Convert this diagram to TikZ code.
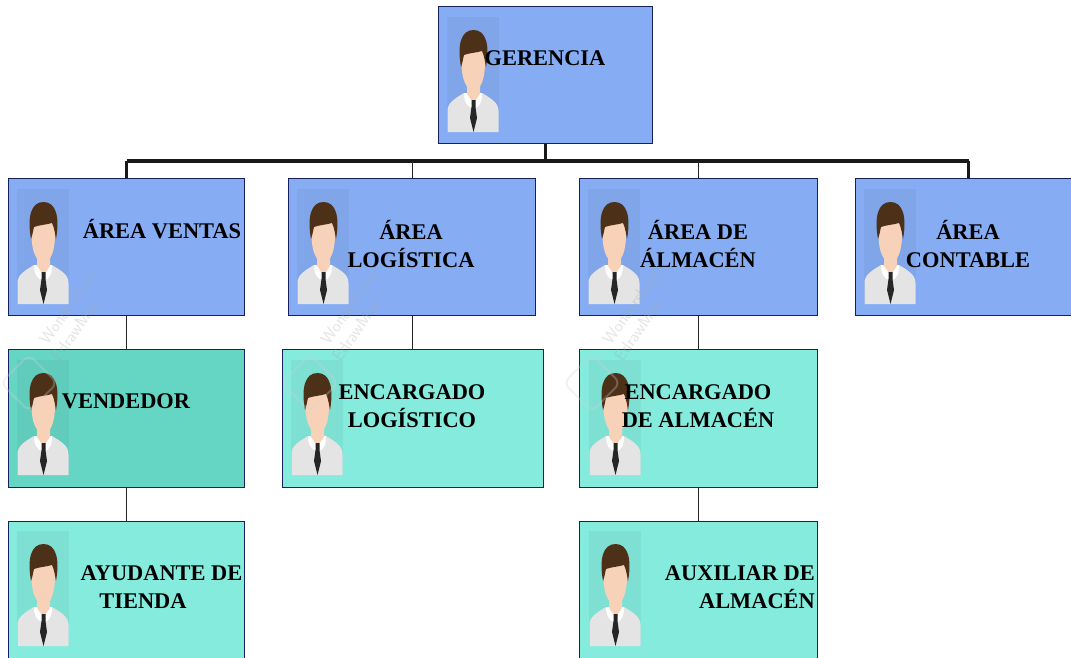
\documentclass[tikz,border=0pt]{standalone}
\usepackage{fontspec}
\setmainfont{Liberation Serif}
\definecolor{areablue}{HTML}{86ADF3}
\definecolor{cargoteal}{HTML}{84EBDD}
\definecolor{vendteal}{HTML}{66D6C4}
\definecolor{edgenavy}{HTML}{16205C}
\definecolor{skintone}{HTML}{F8D2B8}
\definecolor{hairbrown}{HTML}{4C3018}
\definecolor{shirtgray}{HTML}{E4E4E4}
\tikzset{
	orgbox/.style={draw=edgenavy, line width=1.3pt, anchor=north west, inner sep=0pt},
	arealabel/.style={font=\fontsize{22.4}{28}\selectfont\bfseries, align=center, inner sep=0pt},
	thinlink/.style={line width=1.3pt, draw=black!85},
	thicklink/.style={line width=3.6pt, draw=black!90},
	marklabel/.style={font=\fontsize{17}{17}\selectfont\sffamily, text=gray!70, opacity=.3, rotate=55, inner sep=0pt},
	logomark/.style={draw=gray!35, line width=2pt, opacity=.3, rounded corners=7pt, rotate=45, minimum size=40pt, inner sep=0pt},
	person/.pic={
		\fill[black, opacity=.045] (0,0) rectangle (52,115);
		\fill[shirtgray] (0.5,115) -- (0.5,94) .. controls (0.5,86) and (7,82) .. (17,76) -- (35,76)
			.. controls (45,82) and (51.5,86) .. (51.5,94) -- (51.5,115) -- cycle;
		\fill[white] (17,76) .. controls (17,84) and (20,91) .. (26.5,91)
			.. controls (33,91) and (35,84) .. (35,76) -- cycle;
		\fill[skintone] (20,58) -- (33,58) -- (33,77) -- (26.5,86) -- (20,77) -- cycle;
		\fill[skintone] (26.5,73) .. controls (19,73) and (15,62) .. (14.5,48) .. controls (14.5,34) and (20,28) .. (26.5,28)
			.. controls (33,28) and (38.5,34) .. (38,48) .. controls (37.5,62) and (34,73) .. (26.5,73) -- cycle;
		\fill[hairbrown] (14,50) .. controls (10,28) and (14,13) .. (26.5,13) .. controls (39,13) and (43,28) .. (39,50)
			.. controls (38,44) and (37,38) .. (35,34) .. controls (28,36) and (22,36) .. (17,38)
			.. controls (16,42) and (15.5,46) .. (14,50) -- cycle;
		\fill[black!85] (24.5,83) -- (28.5,83) -- (28.5,90) -- (30,101) -- (26.5,115) -- (23,101) -- (24.5,90) -- cycle;
	}
}

\begin{document}
\begin{tikzpicture}[x=1pt, y=-1pt]
	\clip (0,0) rectangle (1071,657);

	% Boxes
	\node[orgbox, fill=areablue, minimum width=214pt, minimum height=137pt] (gerencia) at (438,6) {};
	\node[orgbox, fill=areablue, minimum width=236pt, minimum height=137pt] (ventas) at (8,178) {};
	\node[orgbox, fill=areablue, minimum width=247pt, minimum height=137pt] (logistica) at (288,178) {};
	\node[orgbox, fill=areablue, minimum width=238pt, minimum height=137pt] (almacen) at (579,178) {};
	\node[orgbox, fill=areablue, minimum width=226pt, minimum height=137pt] (contable) at (855,178) {};
	\node[orgbox, fill=vendteal, minimum width=236pt, minimum height=138pt] (vendedor) at (8,349) {};
	\node[orgbox, fill=cargoteal, minimum width=261pt, minimum height=138pt] (enclog) at (282,349) {};
	\node[orgbox, fill=cargoteal, minimum width=238pt, minimum height=138pt] (encalm) at (579,349) {};
	\node[orgbox, fill=cargoteal, minimum width=236pt, minimum height=150pt] (ayudante) at (8,521) {};
	\node[orgbox, fill=cargoteal, minimum width=238pt, minimum height=150pt] (auxiliar) at (579,521) {};

	% Bus
	\coordinate (busleft) at (ventas.north |- 0,161);
	\coordinate (busright) at (contable.north |- 0,161);
	\draw[thicklink] (busleft) -- (busright);

	% Edges
	\draw[thicklink] (gerencia.south) -- (gerencia.south |- busleft);
	\draw[thicklink] (ventas.north) -- (busleft);
	\draw[thicklink] (contable.north) -- (busright);
	\draw[thinlink] (logistica.north) -- (logistica.north |- busleft);
	\draw[thinlink] (almacen.north) -- (almacen.north |- busleft);
	\draw[thinlink] (ventas.south) -- (vendedor.north);
	\draw[thinlink] (vendedor.south) -- (ayudante.north);
	\draw[thinlink] (logistica.south) -- (logistica.south |- enclog.north);
	\draw[thinlink] (almacen.south) -- (encalm.north);
	\draw[thinlink] (encalm.south) -- (auxiliar.north);

	% People
	\pic at (447,17) {person};
	\pic at (17,189) {person};
	\pic at (297,189) {person};
	\pic at (588,189) {person};
	\pic at (864,189) {person};
	\pic at (17,360) {person};
	\pic at (291,360) {person};
	\pic at (589,360) {person};
	\pic at (17,531) {person};
	\pic at (589,531) {person};

	% Labels
	\node[arealabel] (lgerencia) at (545,58) {GERENCIA};
	\node[arealabel] (lventas) at (162,229.5) {ÁREA VENTAS};
	\node[arealabel] (llogistica) at (411,243.5) {ÁREA\\LOGÍSTICA};
	\node[arealabel] (lalmacen) at (698,243.5) {ÁREA DE\\ÁLMACÉN};
	\node[arealabel] (lcontable) at (968,243.5) {ÁREA\\CONTABLE};
	\node[arealabel] (lvendedor) at (126,401.5) {VENDEDOR};
	\node[arealabel] (lenclog) at (412,406) {ENCARGADO\\LOGÍSTICO};
	\node[arealabel] (lencalm) at (698,406) {ENCARGADO\\DE ALMACÉN};
	\node[arealabel, anchor=east] (layudante) at (242.5,573) {AYUDANTE DE};
	\node[arealabel] (ltienda) at (143,601) {TIENDA};
	\node[arealabel, align=right, anchor=east] (lauxiliar) at (815,587) {AUXILIAR DE\\ALMACÉN};

	% Watermarks
	\foreach \wx/\wn in {68/a, 349/b, 631/c}{
		\node[marklabel] (word\wn) at (\wx,307) {Wondershare};
		\node[marklabel] (edraw\wn) at (\wx+7,330) {EdrawMax};
		\node[logomark] (logo\wn) at (\wx-39,383) {};
	}
\end{tikzpicture}
\end{document}
